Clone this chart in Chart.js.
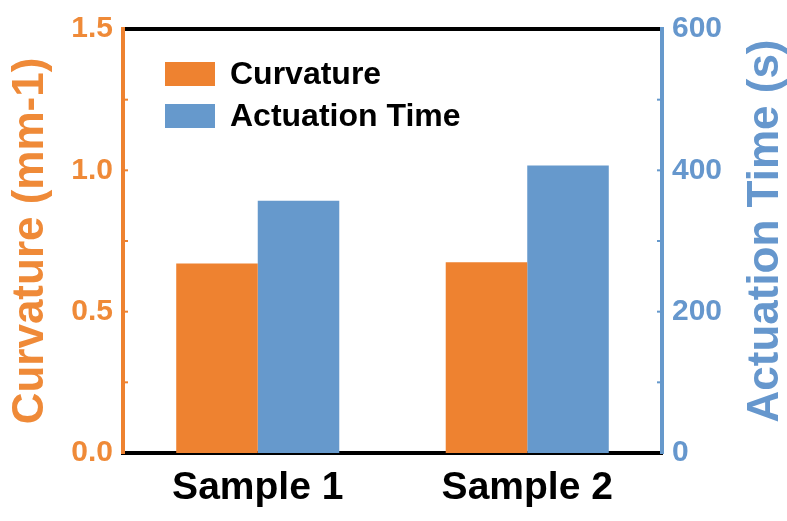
<!DOCTYPE html>
<html>
<head>
<meta charset="utf-8">
<script src="https://cdn.jsdelivr.net/npm/chart.js@4/dist/chart.umd.min.js"></script>
<style>
  html, body { margin: 0; padding: 0; background: #ffffff; }
  #wrap { width: 787px; height: 521px; }
</style>
</head>
<body>
<div id="wrap"><canvas id="c" width="787" height="521"></canvas></div>
<script>
// ---- data ----
const categories = ["Sample 1", "Sample 2"];
const curvatureValues = [0.67, 0.675];       // mm-1 (left axis)
const actuationTimeValues = [357, 407];      // s (right axis)
const seriesNames = ["Curvature", "Actuation Time"];
const leftTicks = [0, 0.5, 1.0, 1.5];
const rightTicks = [0, 200, 400, 600];
const leftTitle = "Curvature (mm-1)";
const rightTitle = "Actuation Time (s)";

// ---- styles ----
const ORANGE = "#EE8230";
const ORANGE_TXT = "#EF8A38";
const BLUE = "#6699CC";
const BLUE_TXT = "#6697CD";
const FONT = "'Liberation Sans', Arial, sans-serif";

const minorTicksPlugin = {
  id: "minorTicks",
  afterDraw(chart) {
    const ctx = chart.ctx;
    const y = chart.scales.y, y1 = chart.scales.y1;
    const area = chart.chartArea;
    ctx.save();
    ctx.lineWidth = 2;
    ctx.strokeStyle = ORANGE;
    for (let i = 0; i < leftTicks.length - 1; i++) {
      const a = leftTicks[i], b = leftTicks[i + 1];
      [a + (b - a) / 2, b].forEach((v) => {
        if (v >= leftTicks[leftTicks.length - 1]) return;
        const py = y.getPixelForValue(v);
        ctx.beginPath(); ctx.moveTo(area.left, py); ctx.lineTo(area.left + 5, py); ctx.stroke();
      });
    }
    ctx.strokeStyle = BLUE;
    for (let i = 0; i < rightTicks.length - 1; i++) {
      const a = rightTicks[i], b = rightTicks[i + 1];
      [a + (b - a) / 2, b].forEach((v) => {
        if (v >= rightTicks[rightTicks.length - 1]) return;
        const py = y1.getPixelForValue(v);
        ctx.beginPath(); ctx.moveTo(area.right - 5, py); ctx.lineTo(area.right, py); ctx.stroke();
      });
    }
    ctx.restore();
  }
};

const rightTitlePlugin = {
  id: "rightTitle",
  afterDraw(chart) {
    const ctx = chart.ctx;
    const s = chart.scales.y1;
    ctx.save();
    ctx.translate(s.right - 21, (s.top + s.bottom) / 2 - 10);
    ctx.rotate(-Math.PI / 2);
    ctx.font = "bold 44px " + FONT;
    ctx.fillStyle = BLUE_TXT;
    ctx.textAlign = "center";
    ctx.textBaseline = "middle";
    ctx.fillText(rightTitle, 0, 0);
    ctx.restore();
  }
};

const legendPlugin = {
  id: "customLegend",
  afterDraw(chart) {
    const ctx = chart.ctx;
    const area = chart.chartArea;
    const x0 = area.left + 42;
    const rows = [area.top + 33, area.top + 75];
    ctx.save();
    ctx.font = "bold 32px " + FONT;
    ctx.textBaseline = "alphabetic";
    chart.data.datasets.forEach((ds, i) => {
      ctx.fillStyle = ds.backgroundColor;
      ctx.fillRect(x0, rows[i], 50, 24);
      ctx.fillStyle = "#000000";
      ctx.fillText(ds.label, x0 + 65, rows[i] + 22);
    });
    ctx.restore();
  }
};

new Chart(document.getElementById("c"), {
  type: "bar",
  data: {
    labels: categories,
    datasets: [
      { label: seriesNames[0], data: curvatureValues, yAxisID: "y", backgroundColor: ORANGE, borderWidth: 0,
        categoryPercentage: 0.605, barPercentage: 1.0 },
      { label: seriesNames[1], data: actuationTimeValues, yAxisID: "y1", backgroundColor: BLUE, borderWidth: 0,
        categoryPercentage: 0.605, barPercentage: 1.0 }
    ]
  },
  options: {
    responsive: false,
    animation: false,
    devicePixelRatio: 1,
    layout: { padding: { top: 29, left: 0, right: 0, bottom: 0 } },
    plugins: { legend: { display: false }, tooltip: { enabled: false } },
    scales: {
      x: {
        position: "bottom",
        offset: true,
        grid: { display: false, drawTicks: false },
        border: { display: true, color: "#000000", width: 4 },
        ticks: { color: "#000000", font: { family: FONT, size: 39, weight: "bold" }, padding: 12, maxRotation: 0 },
        afterFit(s) { s.height = 68; }
      },
      xTop: {
        position: "top",
        type: "category",
        labels: categories,
        offset: true,
        grid: { display: false, drawTicks: false },
        border: { display: true, color: "#000000", width: 4 },
        ticks: { display: false },
        afterFit(s) { s.height = 0; }
      },
      y: {
        position: "left",
        min: leftTicks[0], max: leftTicks[leftTicks.length - 1],
        afterBuildTicks(s) { s.ticks = leftTicks.map(v => ({ value: v })); },
        grid: { display: false, drawTicks: false },
        border: { display: true, color: ORANGE, width: 4 },
        ticks: { color: ORANGE_TXT, font: { family: FONT, size: 30, weight: "bold" }, padding: 10,
                 callback: (v) => Number(v).toFixed(1) },
        title: { display: true, text: leftTitle, color: ORANGE_TXT,
                 font: { family: FONT, size: 44, weight: "bold", lineHeight: 1 }, padding: { top: 9, bottom: 0 } },
        afterFit(s) { s.width = 123; }
      },
      y1: {
        position: "right",
        min: rightTicks[0], max: rightTicks[rightTicks.length - 1],
        afterBuildTicks(s) { s.ticks = rightTicks.map(v => ({ value: v })); },
        grid: { display: false, drawTicks: false },
        border: { display: true, color: BLUE, width: 4 },
        ticks: { color: BLUE_TXT, font: { family: FONT, size: 30, weight: "bold" }, padding: 10 },
        title: { display: false },
        afterFit(s) { s.width = 125; }
      }
    }
  },
  plugins: [minorTicksPlugin, legendPlugin, rightTitlePlugin]
});
</script>
</body>
</html>
